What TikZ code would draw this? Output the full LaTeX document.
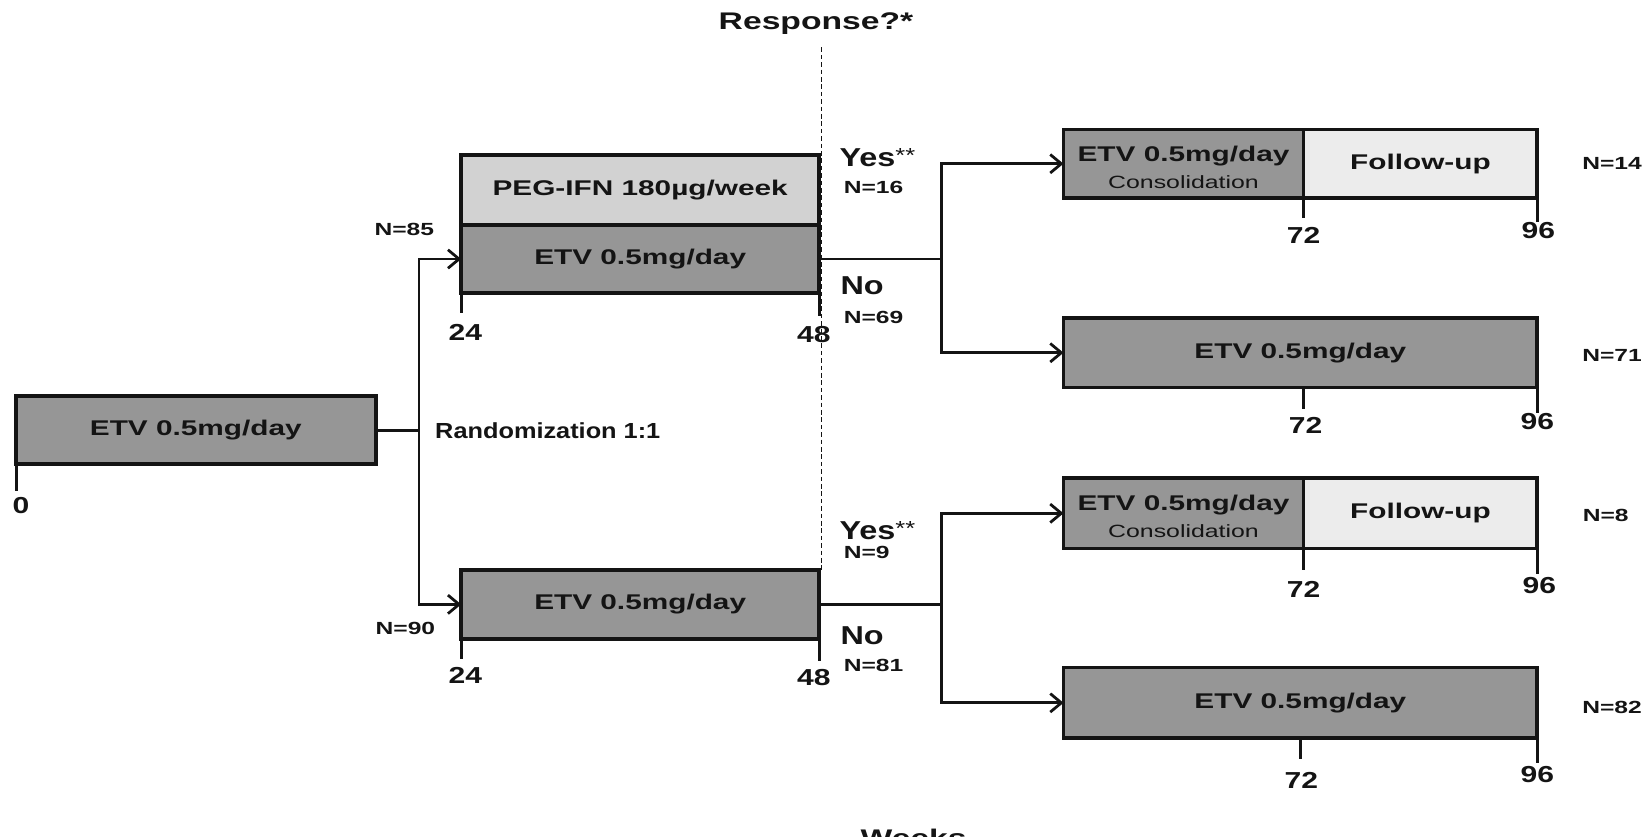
\documentclass[tikz,border=0pt]{standalone}
\usepackage{fontspec}
\setmainfont{Liberation Sans}
\newfontfamily\wideA{Liberation Sans}[FakeStretch=1.4]
\newfontfamily\wideB{Liberation Sans}[FakeStretch=1.25]
\newfontfamily\wideR{Liberation Sans}[FakeStretch=1.16]
\newfontfamily\wideC{Liberation Sans}[FakeStretch=1.3]
\usetikzlibrary{arrows.meta}
\definecolor{boxdark}{RGB}{150,150,150}
\definecolor{boxlight}{RGB}{210,210,210}
\definecolor{boxpale}{RGB}{236,236,236}
\definecolor{ink}{RGB}{20,20,20}
\newcommand{\starsup}{\raisebox{2.5pt}{\mdseries\fontsize{11}{11}\selectfont **}}
\begin{document}
\begin{tikzpicture}[x=0.02cm,y=-0.02cm,
  bx/.style={draw=ink, line width=2pt, inner sep=0pt, outer sep=0pt, align=center,
    text=ink, font=\wideA\bfseries\fontsize{11.5}{13}\selectfont},
  dark/.style={bx, fill=boxdark},
  light/.style={bx, fill=boxlight},
  pale/.style={bx, fill=boxpale},
  conn/.style={draw=ink, line width=1.5pt},
  arr/.style={conn, -{Straight Barb[length=6pt,width=10pt,line width=1.5pt]}},
  tick/.style={draw=ink, line width=1.5pt},
  dashln/.style={draw=ink, line width=0.6pt, dash pattern=on 2.5pt off 1.5pt},
  digit/.style={inner sep=0pt, text=ink, font=\wideC\bfseries\fontsize{12.5}{14}\selectfont},
  nlab/.style={inner sep=0pt, text=ink, font=\wideA\bfseries\fontsize{9.5}{11}\selectfont},
  yn/.style={inner sep=0pt, text=ink, anchor=base west, font=\wideB\bfseries\fontsize{14}{16}\selectfont},
  ynn/.style={inner sep=0pt, text=ink, anchor=base west, font=\wideA\bfseries\fontsize{9.5}{11}\selectfont},
  resp/.style={inner sep=0pt, text=ink, font=\wideA\bfseries\fontsize{13}{15}\selectfont},
  rand/.style={inner sep=0pt, text=ink, anchor=west, font=\wideR\bfseries\fontsize{11.8}{13}\selectfont}
]
\useasboundingbox (0,0) rectangle (1568,794);
\clip (0,0) rectangle (1568,794);

% heading and response line
\node[resp] (resp) at (775,22) {Response?*};
\coordinate (dtop) at (780,45);

% boxes
\node[dark, minimum width=6.84cm, minimum height=1.3cm] (lbox) at (186,408.5) {ETV 0.5mg/day};
\node[light, minimum width=6.8cm, minimum height=1.34cm] (peg) at (608,180.5) {PEG-IFN 180µg/week};
\node[dark, minimum width=6.8cm, minimum height=1.28cm] (etvA) at (608,246) {ETV 0.5mg/day};
\node[dark, minimum width=6.8cm, minimum height=1.32cm] (etvB) at (608,574) {ETV 0.5mg/day};

\draw[dashln] (dtop) -- (dtop |- etvB.north);
\draw[draw=ink, line width=2pt] (peg.north east) -- (etvA.south east);

\node[dark, minimum width=4.56cm, minimum height=1.3cm] (c1) at (1124,155.5)
  {\rule{0pt}{12pt}ETV 0.5mg/day\\[1.5pt]{\mdseries\fontsize{9.6}{11}\selectfont Consolidation}};
\node[pale, minimum width=4.44cm, minimum height=1.3cm] (f1) at (1349,155.5) {Follow-up};
\node[dark, minimum width=9cm, minimum height=1.32cm] (e2) at (1235,335) {ETV 0.5mg/day};
\node[dark, minimum width=4.56cm, minimum height=1.34cm] (c3) at (1124,487.5)
  {\rule{0pt}{12pt}ETV 0.5mg/day\\[1.5pt]{\mdseries\fontsize{9.6}{11}\selectfont Consolidation}};
\node[pale, minimum width=4.44cm, minimum height=1.34cm] (f3) at (1349,487.5) {Follow-up};
\node[dark, minimum width=9cm, minimum height=1.34cm] (e4) at (1235,667.5) {ETV 0.5mg/day};

% randomization
\coordinate (rz) at (398,408.5);
\draw[conn] (lbox.east) -- (rz);
\draw[arr] (rz) |- (etvA.west);
\draw[arr] (rz) |- (etvB.west);
\node[rand] (randl) at (413,409) {Randomization 1:1};
\node[nlab] (n85) at (384,218) {N=85};
\node[nlab] (n90) at (385,597) {N=90};

% branches
\coordinate (bA) at (894,246);
\draw[conn] (etvA.east) -- (bA);
\draw[arr] (bA) |- (c1.west);
\draw[arr] (bA) |- (e2.west);
\coordinate (bB) at (894,574);
\draw[conn] (etvB.east) -- (bB);
\draw[arr] (bB) |- (c3.west);
\draw[arr] (bB) |- (e4.west);

% yes / no labels
\node[yn] (yesA) at (797,158.6) {Yes\starsup};
\node[ynn] (n16) at (801,183.5) {N=16};
\node[yn] (noA) at (798,280) {No};
\node[ynn] (n69) at (801,307) {N=69};
\node[yn] (yesB) at (797,512.6) {Yes\starsup};
\node[ynn] (n9) at (801,530.5) {N=9};
\node[yn] (noB) at (798,612) {No};
\node[ynn] (n81) at (801,637.5) {N=81};

% right N labels
\node[nlab] (n14) at (1531,155) {N=14};
\node[nlab] (n71) at (1531,338) {N=71};
\node[nlab] (n8) at (1525,490) {N=8};
\node[nlab] (n82) at (1531,672) {N=82};

% ticks
\draw[tick] (lbox.south west) ++(1,0) -- ++(0,25);
\draw[tick] (etvA.south west) -- ++(0,19);
\draw[tick] (etvA.south east) -- ++(0,22);
\draw[tick] (etvB.south west) -- ++(0,19);
\draw[tick] (etvB.south east) -- ++(0,21);
\draw[tick] (c1.south east) -- ++(0,19);
\draw[tick] (f1.south east) -- ++(0,23);
\draw[tick] (e2.south) ++(3,0) -- ++(0,20);
\draw[tick] (e2.south east) -- ++(0,24);
\draw[tick] (c3.south east) -- ++(0,20);
\draw[tick] (f3.south east) -- ++(0,24);
\draw[tick] (e4.south) ++(0,0) -- ++(0,20);
\draw[tick] (e4.south east) -- ++(0,24);

% tick labels
\node[digit] (w0) at (20,480) {0};
\node[digit] (w24a) at (442,316) {24};
\node[digit] (w48a) at (773,318) {48};
\node[digit] (w24b) at (442,641) {24};
\node[digit] (w48b) at (773,643) {48};
\node[digit] (w72a) at (1238,224) {72};
\node[digit] (w96a) at (1461,219) {96};
\node[digit] (w72b) at (1240,404) {72};
\node[digit] (w96b) at (1460,400) {96};
\node[digit] (w72c) at (1238,560) {72};
\node[digit] (w96c) at (1462,556) {96};
\node[digit] (w72d) at (1236,741) {72};
\node[digit] (w96d) at (1460,736) {96};

% axis title, cut by the lower edge as in the reference
\node[resp, anchor=north west] (weeks) at (817,787) {Weeks};
\end{tikzpicture}
\end{document}
